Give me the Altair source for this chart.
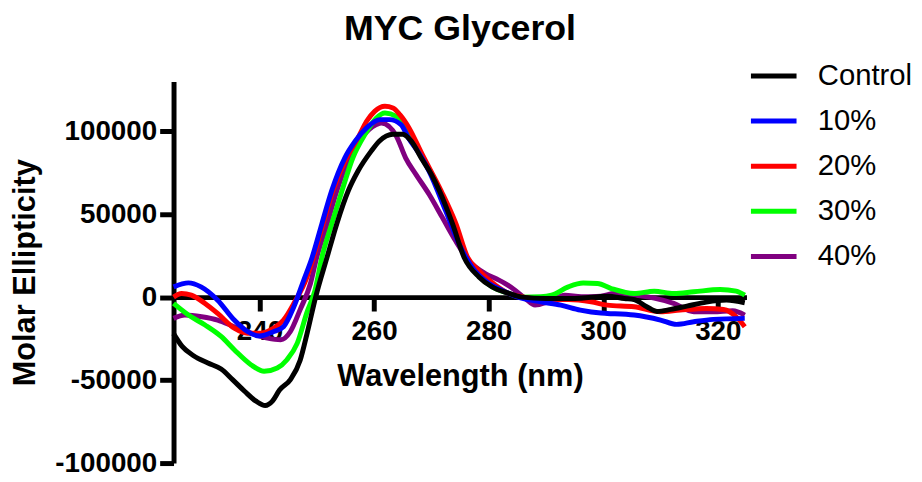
import altair as alt
import pandas as pd

series_names = ["Control", "10%", "20%", "30%", "40%"]
series_colors = ["#000000", "#0000FF", "#FF0000", "#00FF00", "#800080"]
x_ticks = [240, 260, 280, 300, 320]
y_ticks = [-100000, -50000, 0, 50000, 100000]

control_nm = [225, 226.5, 228.5, 231, 233.3, 235.3, 237.4, 239.4, 241, 242.3, 243.5, 245.4, 247.1, 248.3,
              249.8, 251.8, 253.5, 255.5, 257.2, 259.5, 260.9, 263.3, 265, 266.5, 268.2, 270, 271.4,
              273.7, 275.7, 278.3, 280.6, 283.4, 285.8, 290, 295, 300.7, 303.7, 305.4, 307.6, 309.4,
              311.8, 314.6, 318, 321.5, 324.7]
control_val = [-22000, -29700, -35300, -39700, -43300, -49700, -56700, -62700, -65300, -62500, -56000,
               -49700, -38000, -22000, 0, 24100, 44300, 64100, 76000, 88000, 94000, 98200, 98200, 94000,
               84000, 74000, 64100, 44100, 24100, 12200, 6200, 2400, 0, -800, -800, 600, -800, -1500,
               -5800, -8600, -7400, -5400, -3000, -1800, -3400]

p10_nm = [225, 226.5, 227.6, 229.8, 232.7, 235.6, 237.9, 240, 242.5, 244.2, 246, 247.7, 249.2, 250.9,
          252.6, 254.9, 256.7, 258.7, 261, 262.7, 264.7, 266, 268, 269.6, 272.5, 274.8, 277.1, 280,
          282.3, 285, 289.1, 292.6, 296, 299.6, 300.7, 305.4, 310, 312.8, 315.8, 319.2, 324.7]
p10_val = [6200, 8000, 8600, 6200, -1800, -13800, -20700, -23400, -20700, -17800, -5800, 10000, 24100,
           44300, 64100, 84000, 94000, 102000, 107000, 107000, 104000, 96000, 86000, 76000, 52000,
           32300, 18100, 8400, 4200, 200, -2800, -4800, -7800, -9600, -9800, -10800, -13800, -16400,
           -14800, -13400, -12800]

p20_nm = [225, 226.4, 228.1, 230.5, 232.7, 235.6, 237.9, 240.2, 242.5, 244.2, 246, 248.3, 249.4, 251.1,
          252.8, 255.2, 257.2, 258.7, 260.1, 261.9, 263.3, 264.5, 266.1, 268.4, 271.7, 274.3, 276.3,
          278.2, 281.2, 283.4, 285.8, 289, 294, 297.9, 300.7, 305.4, 310, 313.4, 318, 321, 323.2, 324.7]
p20_val = [0, 2200, 1200, -3800, -9800, -18700, -21700, -21700, -18700, -13800, -3800, 12200, 24100,
           44300, 64100, 84000, 96000, 106000, 112000, 115000, 114000, 110000, 102000, 86000, 64100,
           44100, 24100, 16200, 7200, 2400, 200, -1400, -1400, -2800, -4800, -5800, -8800, -7800,
           -6800, -7400, -11800, -17800]

p30_nm = [225, 227.6, 230.5, 233.3, 235.6, 238.5, 240.8, 243.1, 244.8, 246.6, 248.3, 249.7, 250.9,
          252.6, 254.4, 256.3, 258.4, 260.4, 261.9, 263.9, 266, 268.5, 271.5, 273.8, 275.9, 278.2,
          280.5, 283.4, 285.8, 289.1, 291, 293.9, 296.5, 299, 301.4, 305.4, 308.9, 312.3, 315.8,
          320.4, 323.2, 324.7]
p30_val = [-3800, -10800, -16800, -23700, -31700, -40700, -44700, -42700, -37700, -27700, -9000, 4200,
           24100, 44100, 64100, 84000, 98000, 108000, 111000, 109000, 98000, 84000, 64100, 44100,
           24100, 13000, 6500, 2400, 0, 200, 1200, 6200, 8500, 8200, 5200, 2200, 3600, 2200, 3200,
           4600, 3600, 1200]

p40_nm = [225, 227, 229.9, 232.7, 235.6, 238.5, 241.4, 243.7, 245.4, 247.1, 248.9, 250, 251.8, 253.5,
          255.7, 257.8, 260.4, 261.3, 263.9, 265.5, 267.3, 269.6, 271.9, 274.2, 276.5, 279.4, 281.5,
          282.9, 284.6, 286.4, 288.1, 290.4, 293.3, 296.2, 299.6, 301.9, 305.4, 308.9, 312.3, 315.8,
          319.2, 322.6, 324.7]
p40_val = [-12800, -10800, -11800, -13800, -17800, -21700, -24700, -25700, -20700, -7500, 8200, 24100,
           44100, 64100, 84000, 96000, 104000, 105000, 97000, 84000, 74000, 62000, 48100, 34100,
           22200, 14200, 10800, 8200, 4200, -800, -4800, -2800, 1200, 200, 600, 2200, 1200, -600,
           -3800, -8800, -8800, -8200, -10800]

frames = []
for name, nms, vals in [("Control", control_nm, control_val), ("10%", p10_nm, p10_val),
                        ("20%", p20_nm, p20_val), ("30%", p30_nm, p30_val), ("40%", p40_nm, p40_val)]:
    frames.append(pd.DataFrame({"nm": nms, "val": vals, "series": name}))
df = pd.concat(frames, ignore_index=True)

FONT = "Liberation Sans"

color_scale = alt.Scale(domain=series_names, range=series_colors)

x_enc = alt.X("nm:Q", scale=alt.Scale(domain=[225, 325], nice=False, zero=False),
              axis=alt.Axis(values=x_ticks, title="Wavelength (nm)", offset=-167.4,
                            labelPadding=7, titlePadding=16, labelExpr="'' + datum.value"))
y_enc = alt.Y("val:Q", scale=alt.Scale(domain=[-100000, 130000], nice=False),
              axis=alt.Axis(values=y_ticks, title="Molar Ellipticity", labelPadding=3,
                            titlePadding=14, labelExpr="'' + datum.value"))
c_enc = alt.Color("series:N", scale=color_scale,
                  legend=alt.Legend(title=None, orient="none", legendX=580, legendY=-31,
                                    symbolType="stroke", symbolSize=2116, symbolStrokeWidth=5,
                                    labelFontSize=29.5, labelFont=FONT, labelColor="black",
                                    labelOffset=19, rowPadding=5.5, padding=0))

layers = []
for name in ["40%", "30%", "20%", "10%", "Control"]:
    layers.append(
        alt.Chart(df).transform_filter(alt.datum.series == name)
        .mark_line(strokeWidth=5, interpolate="monotone", strokeJoin="round")
        .encode(x=x_enc, y=y_enc, color=c_enc)
    )

chart = alt.layer(*layers).properties(
    width=578, height=385,
    autosize=alt.AutoSizeParams(type="none"),
    padding={"left": 167, "top": 72, "right": 169, "bottom": 17},
    title=alt.TitleParams("MYC Glycerol", fontSize=36, font=FONT, fontWeight="bold",
                          anchor="middle", offset=3, color="black"),
).configure_view(strokeWidth=0).configure_axis(
    grid=False, domainColor="black", domainWidth=5, tickColor="black", tickWidth=5, tickSize=14,
    labelFont=FONT, labelFontSize=28, labelFontWeight="bold", labelColor="black",
    titleFont=FONT, titleFontSize=31, titleFontWeight="bold", titleColor="black",
)

chart.save("out.html", embed_options={"renderer": "svg", "actions": False})
